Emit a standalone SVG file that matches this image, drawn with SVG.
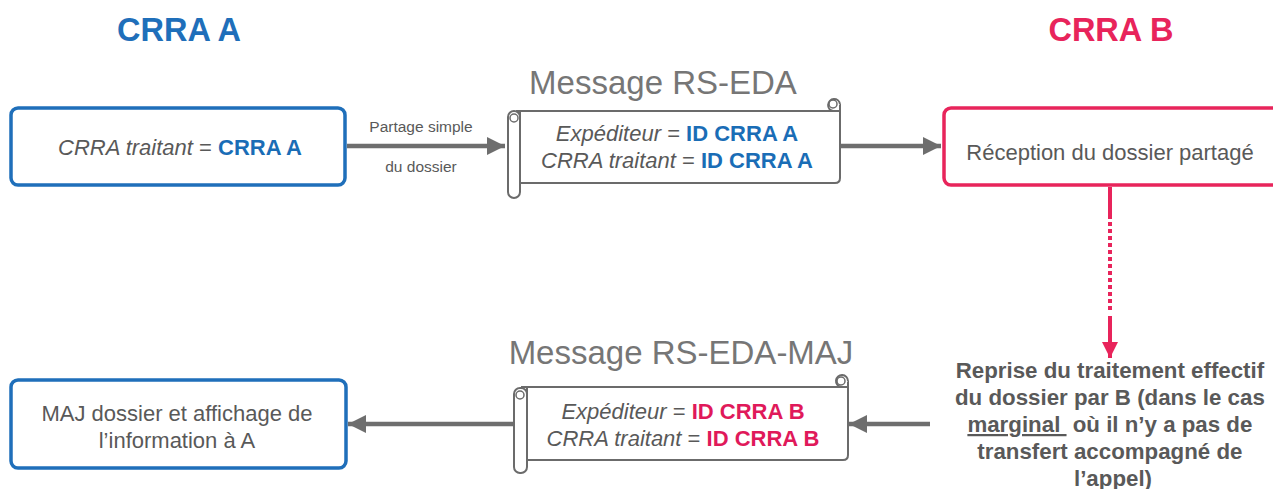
<svg xmlns="http://www.w3.org/2000/svg" width="1273" height="489" viewBox="0 0 1273 489">
<style>
text{font-family:"Liberation Sans",Arial,sans-serif;}
.title{font-size:32.5px;font-weight:bold;}
.msg{font-size:33px;fill:#767676;}
.box{fill:#fff;stroke-width:3.5;}
.blue{stroke:#1F6FBA;}
.pink{stroke:#E8245B;}
.t{font-size:22px;fill:#595959;}
.it{font-style:italic;}
.bb{font-weight:bold;fill:#1A6DB6;}
.bp{font-weight:bold;fill:#E0195A;}
.scroll{fill:#fff;stroke:#6B6B6B;stroke-width:2;}
.conn{stroke:#6E6E6E;stroke-width:4.5;fill:none;}
.small{font-size:15.5px;fill:#595959;}
.note{font-size:22.3px;font-weight:bold;fill:#595959;}
</style>
<defs>
<marker id="ag" viewBox="0 0 10 10" refX="10" refY="5" markerWidth="4" markerHeight="4" orient="auto" markerUnits="strokeWidth">
<path d="M0,0 L10,5 L0,10 z" fill="#6E6E6E"/>
</marker>
<marker id="ap" viewBox="0 0 10 10" refX="10" refY="5" markerWidth="4" markerHeight="4" orient="auto" markerUnits="strokeWidth">
<path d="M0,0 L10,5 L0,10 z" fill="#E8245B"/>
</marker>
</defs>

<text class="title" x="179" y="41" text-anchor="middle" fill="#1F6FBA">CRRA A</text>
<text class="title" x="1111" y="41" text-anchor="middle" fill="#E8245B">CRRA B</text>

<g id="connectors">
<line class="conn" x1="347" y1="146" x2="505" y2="146" marker-end="url(#ag)"/>
<line class="conn" x1="841" y1="146" x2="941" y2="146" marker-end="url(#ag)"/>
<line x1="1110" y1="187" x2="1110" y2="219" stroke="#E8245B" stroke-width="4"/>
<line x1="1110" y1="222" x2="1110" y2="313" stroke="#E8245B" stroke-width="4" stroke-dasharray="4,3"/>
<line x1="1110" y1="316" x2="1110" y2="358" stroke="#E8245B" stroke-width="4" marker-end="url(#ap)"/>
<line class="conn" x1="930" y1="424" x2="849" y2="424" marker-end="url(#ag)"/>
<line class="conn" x1="513" y1="424" x2="348" y2="424" marker-end="url(#ag)"/>
<text class="small" x="421" y="132" text-anchor="middle">Partage simple</text>
<text class="small" x="421" y="172" text-anchor="middle">du dossier</text>
</g>

<g id="nodeA1">
<rect class="box blue" x="11" y="108" width="334" height="77" rx="7"/>
<text class="t" x="180" y="155" text-anchor="middle"><tspan class="it">CRRA traitant</tspan> = <tspan class="bb">CRRA A</tspan></text>
</g>

<g id="msg1">
<text class="msg" x="663" y="94" text-anchor="middle">Message RS-EDA</text>
<path class="scroll" d="M516,111 H833 M840,104 V178 Q840,183 835,183 H520 V111"/>
<path class="scroll" d="M833,111 A6,6 0 1 1 840,104 M833,111 H840"/>
<circle cx="833" cy="104" r="4" fill="none" stroke="#6B6B6B" stroke-width="1.5"/>
<rect class="scroll" x="508" y="111" width="12" height="87" rx="6"/>
<circle cx="514" cy="118" r="4" fill="none" stroke="#6B6B6B" stroke-width="1.5"/>
<text class="t" x="677" y="141" text-anchor="middle"><tspan class="it">Expéditeur</tspan> = <tspan class="bb">ID CRRA A</tspan></text>
<text class="t" x="677" y="168" text-anchor="middle"><tspan class="it">CRRA traitant</tspan> = <tspan class="bb">ID CRRA A</tspan></text>
</g>

<g id="nodeB1">
<rect class="box pink" x="944" y="108" width="340" height="77" rx="7"/>
<text class="t" x="1110" y="160" text-anchor="middle">Réception du dossier partagé</text>
</g>

<g id="nodeB2">
<text class="note" text-anchor="middle">
<tspan x="1113" y="378">Reprise du traitement effectif</tspan>
<tspan x="1113" y="405">du dossier par B (dans le cas</tspan>
<tspan x="1113" y="432"><tspan text-decoration="underline">marginal&#160;</tspan> où il n’y a pas de</tspan>
<tspan x="1113" y="459">transfert accompagné de</tspan>
<tspan x="1113" y="486">l’appel)</tspan>
</text>
</g>

<g id="msg2">
<text class="msg" x="681" y="364" text-anchor="middle">Message RS-EDA-MAJ</text>
<path class="scroll" d="M521,387 H841 M848,381 V455 Q848,460 843,460 H527 V387"/>
<path class="scroll" d="M841,387 A6,6 0 1 1 848,381 M841,387 H848"/>
<circle cx="841" cy="381" r="4" fill="none" stroke="#6B6B6B" stroke-width="1.5"/>
<rect class="scroll" x="514" y="388" width="13" height="85" rx="6"/>
<circle cx="520" cy="395" r="4" fill="none" stroke="#6B6B6B" stroke-width="1.5"/>
<text class="t" x="683" y="419" text-anchor="middle"><tspan class="it">Expéditeur</tspan> = <tspan class="bp">ID CRRA B</tspan></text>
<text class="t" x="683" y="446" text-anchor="middle"><tspan class="it">CRRA traitant</tspan> = <tspan class="bp">ID CRRA B</tspan></text>
</g>

<g id="nodeA2">
<rect class="box blue" x="11" y="380" width="335" height="88" rx="7"/>
<text class="t" x="177" y="421" text-anchor="middle">MAJ dossier et affichage de</text>
<text class="t" x="177" y="448" text-anchor="middle">l’information à A</text>
</g>
</svg>
